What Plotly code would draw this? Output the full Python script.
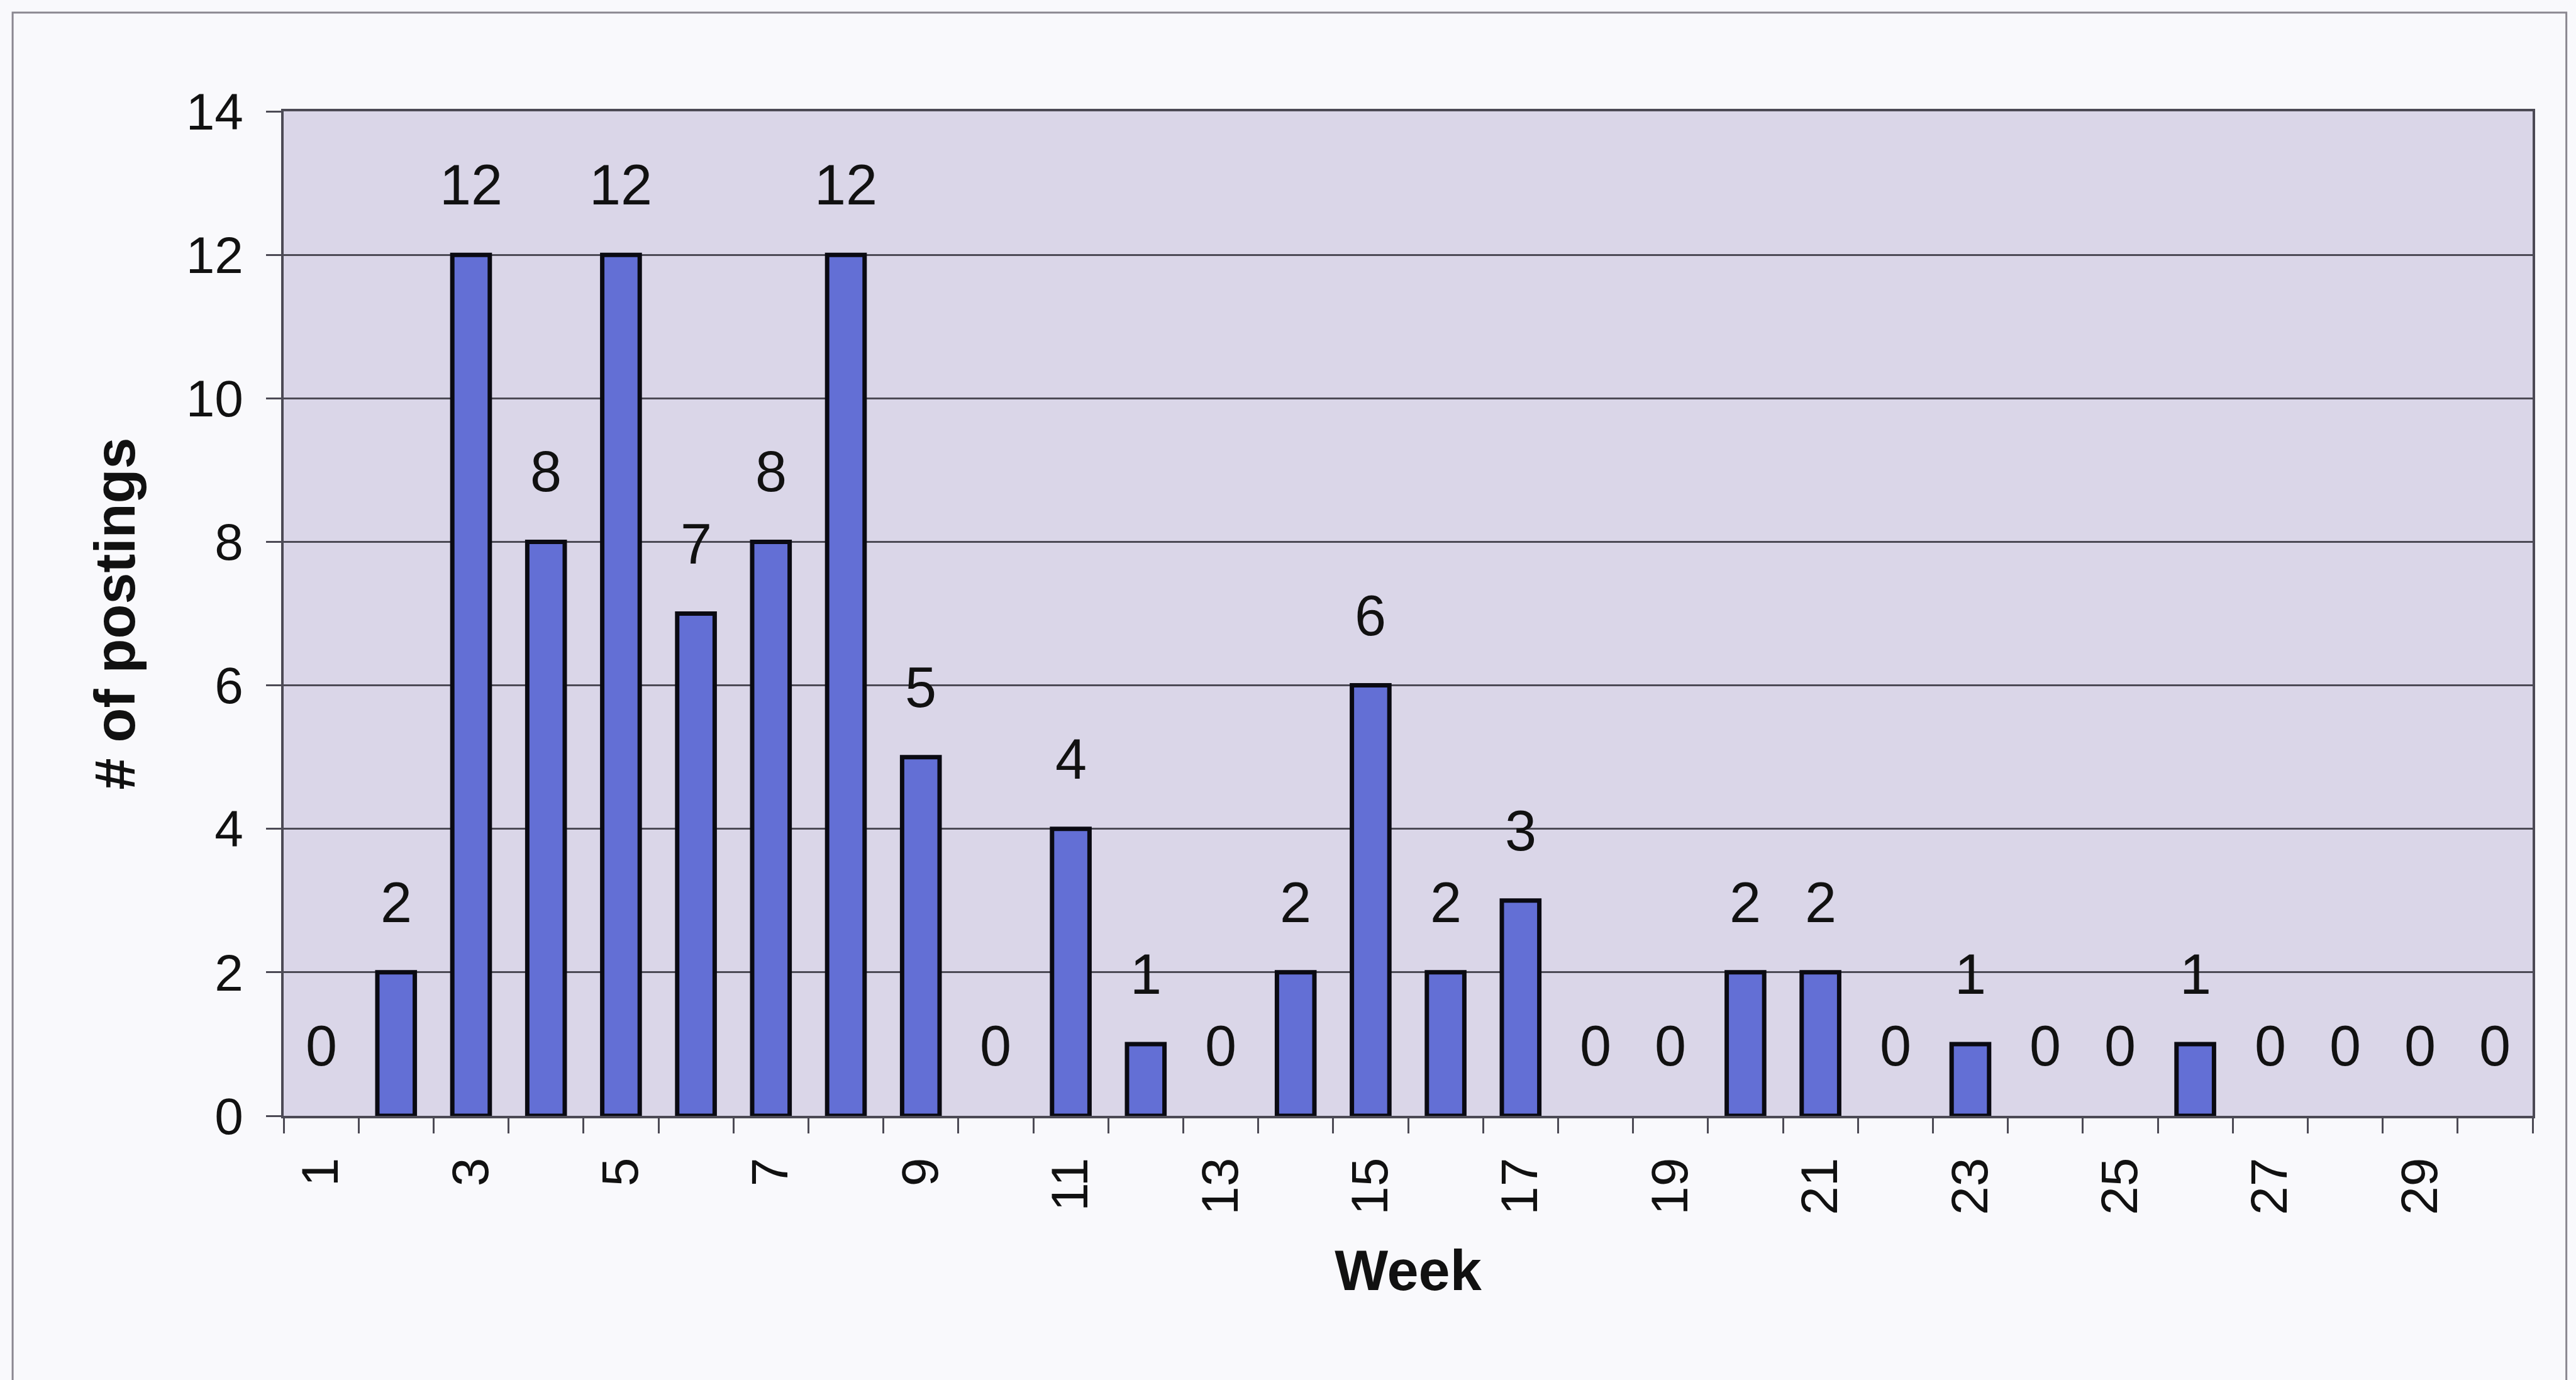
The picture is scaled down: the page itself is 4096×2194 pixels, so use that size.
import plotly.graph_objects as go

# Weekly count of postings
weeks = list(range(1, 31))
postings = [0, 2, 12, 8, 12, 7, 8, 12, 5, 0,
            4, 1, 0, 2, 6, 2, 3, 0, 0, 2,
            2, 0, 1, 0, 0, 1, 0, 0, 0, 0]

y_ticks = list(range(0, 15, 2))
x_label_weeks = [w for w in weeks if w % 2 == 1]
x_boundaries = [w - 0.5 for w in weeks] + [weeks[-1] + 0.5]

FONT = "Liberation Sans, Arial, sans-serif"
LINE = "#4c4a55"

# empty weeks get no outline so no sliver shows on the baseline
outline_widths = [7 if v > 0 else 0 for v in postings]

fig = go.Figure()
fig.add_trace(go.Bar(
    x=weeks,
    y=postings,
    width=0.5,
    marker=dict(color="#636fd5", line=dict(color="#0a0a12", width=outline_widths)),
    hoverinfo="x+y",
))

# value labels above every bar (including zero weeks)
for w, v in zip(weeks, postings):
    fig.add_annotation(
        x=w, y=v, text=str(v), showarrow=False,
        xref="x", yref="y", yanchor="middle", yshift=111,
        font=dict(family=FONT, size=90, color="#111111"),
    )

# outer chart frame
fig.add_shape(
    type="rect", xref="paper", yref="paper",
    x0=-0.1205, x1=1.0150, y0=-0.30, y1=1.0983,
    line=dict(color="#8a8790", width=3), fillcolor="rgba(0,0,0,0)",
    layer="below",
)

fig.update_layout(
    width=4096, height=2194, autosize=False,
    margin=dict(l=451, r=69, t=177, b=420),
    paper_bgcolor="#f9f9fc",
    plot_bgcolor="#dad6e8",
    showlegend=False,
    font=dict(family=FONT, color="#111111"),
    xaxis=dict(
        range=[0.5, 30.5],
        tickmode="array", tickvals=x_label_weeks,
        ticktext=[str(w) for w in x_label_weeks],
        ticks="", tickangle=-90,
        tickfont=dict(family=FONT, size=82, color="#111111"),
        ticklabelstandoff=30,
        minor=dict(tickmode="array", tickvals=x_boundaries, ticks="outside",
                   ticklen=24, tickwidth=3, tickcolor=LINE, showgrid=False),
        showgrid=False, zeroline=False,
        showline=True, linecolor=LINE, linewidth=3.5, mirror=True,
        title=dict(text="<b>Week</b>", standoff=58,
                   font=dict(family=FONT, size=90, color="#111111")),
    ),
    yaxis=dict(
        range=[0, 14],
        tickmode="array", tickvals=y_ticks,
        ticks="outside", ticklen=24, tickwidth=3, tickcolor=LINE,
        tickfont=dict(family=FONT, size=82, color="#111111"),
        ticklabelstandoff=20,
        showgrid=True, gridcolor=LINE, gridwidth=3,
        zeroline=False,
        showline=True, linecolor=LINE, linewidth=3.5, mirror=True,
        title=dict(text="<b># of postings</b>", standoff=52,
                   font=dict(family=FONT, size=90, color="#111111")),
    ),
)

fig.write_html("out.html")
